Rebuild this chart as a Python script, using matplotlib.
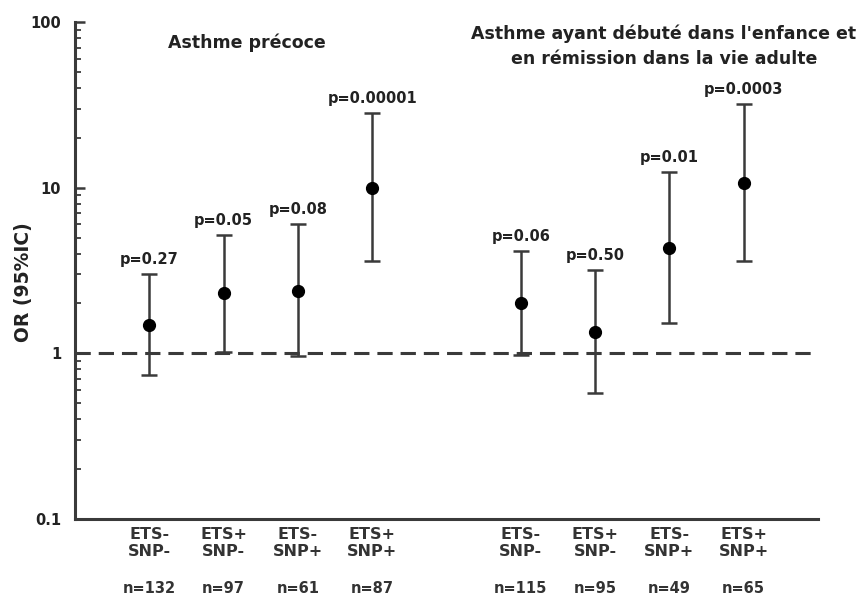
import matplotlib
matplotlib.use("Agg")
import matplotlib.pyplot as plt
from matplotlib.ticker import LogLocator, NullFormatter, FixedLocator, FixedFormatter

# ---- data ----
groups = ["Asthme précoce",
          "Asthme ayant débuté dans l'enfance et\nen rémission dans la vie adulte"]
categories = ["ETS-\nSNP-", "ETS+\nSNP-", "ETS-\nSNP+", "ETS+\nSNP+"]
or_g1 = [1.48, 2.32, 2.37, 9.95]
lo_g1 = [0.74, 1.02, 0.96, 3.60]
hi_g1 = [3.00, 5.16, 6.01, 28.3]
p_g1 = ["p=0.27", "p=0.05", "p=0.08", "p=0.00001"]
n_g1 = ["n=132", "n=97", "n=61", "n=87"]

or_g2 = [2.00, 1.35, 4.33, 10.7]
lo_g2 = [0.98, 0.577, 1.52, 3.60]
hi_g2 = [4.15, 3.18, 12.5, 32.1]
p_g2 = ["p=0.06", "p=0.50", "p=0.01", "p=0.0003"]
n_g2 = ["n=115", "n=95", "n=49", "n=65"]

ytick_vals = [0.1, 1, 10, 100]
ytick_labels = ["0.1", "1", "10", "100"]

# ---- figure ----
plt.rcParams['font.family'] = ['DejaVu Sans']
plt.rcParams['font.weight'] = 'bold'
fig = plt.figure(figsize=(8.63, 6.0), dpi=100)
ax = fig.add_axes([75/863, 81/600, (818-75)/863, (519-22)/600])

line_col = "#3a3a3a"
ncat = len(categories)
xs_all, or_all, lo_all, hi_all, p_all, n_all, lab_all = [], [], [], [], [], [], []
for gi, (orv, lov, hiv, pv, nv) in enumerate([(or_g1, lo_g1, hi_g1, p_g1, n_g1),
                                              (or_g2, lo_g2, hi_g2, p_g2, n_g2)]):
    for i in range(ncat):
        xs_all.append(1 + i + gi * (ncat + 1))
        or_all.append(orv[i]); lo_all.append(lov[i]); hi_all.append(hiv[i])
        p_all.append(pv[i]); n_all.append(nv[i]); lab_all.append(categories[i])

ax.axhline(1, color=line_col, lw=2.2, ls=(0, (5, 2.6)), zorder=1)

yerr = [[o - l for o, l in zip(or_all, lo_all)], [h - o for o, h in zip(or_all, hi_all)]]
ax.errorbar(xs_all, or_all, yerr=yerr, fmt='o', color='black', ms=8.5,
            ecolor=line_col, elinewidth=1.8, capsize=6, capthick=1.8, zorder=3)

for x, h, p in zip(xs_all, hi_all, p_all):
    ax.annotate(p, (x, h), xytext=(0, 5), textcoords='offset points',
                ha='center', va='bottom', fontsize=10.5, fontweight='bold', color='#222222')

ax.set_yscale('log')
ax.set_ylim(0.1, 100)
ax.set_xlim(0, 10)
ax.yaxis.set_major_locator(FixedLocator(ytick_vals))
ax.yaxis.set_major_formatter(FixedFormatter(ytick_labels))
ax.yaxis.set_minor_locator(LogLocator(base=10, subs=range(2, 10)))
ax.yaxis.set_minor_formatter(NullFormatter())
ax.tick_params(axis='y', which='major', direction='in', length=7, width=1.8,
               colors=line_col, labelcolor='#222222', labelsize=10.5, pad=10)
ax.tick_params(axis='y', which='minor', direction='in', length=4, width=1.3, colors=line_col)

ax.set_xticks(xs_all)
ax.set_xticklabels(lab_all, fontsize=11.5, fontweight='bold', color='#333333',
                   linespacing=1.1)
ax.tick_params(axis='x', length=0, pad=6)
for x, n in zip(xs_all, n_all):
    ax.annotate(n, (x, 0), xycoords=('data', 'axes fraction'), xytext=(0, -50),
                textcoords='offset points', ha='center', va='center',
                fontsize=10.5, fontweight='bold', color='#333333')

for s in ['top', 'right']:
    ax.spines[s].set_visible(False)
for s in ['left', 'bottom']:
    ax.spines[s].set_linewidth(2.2)
    ax.spines[s].set_color(line_col)

ax.set_ylabel("OR (95%IC)", fontsize=13.5, fontweight='bold', color='#222222')
ax.yaxis.set_label_coords(-0.056, 0.477)

fig.text(247/863, 1 - 43/600, groups[0], ha='center', va='center',
         fontsize=12.5, fontweight='bold', color='#222222')
fig.text(664/863, 1 - 46.5/600, groups[1], ha='center', va='center',
         fontsize=12.5, fontweight='bold', color='#222222', linespacing=1.5)

fig.savefig("out.png", dpi=100)
